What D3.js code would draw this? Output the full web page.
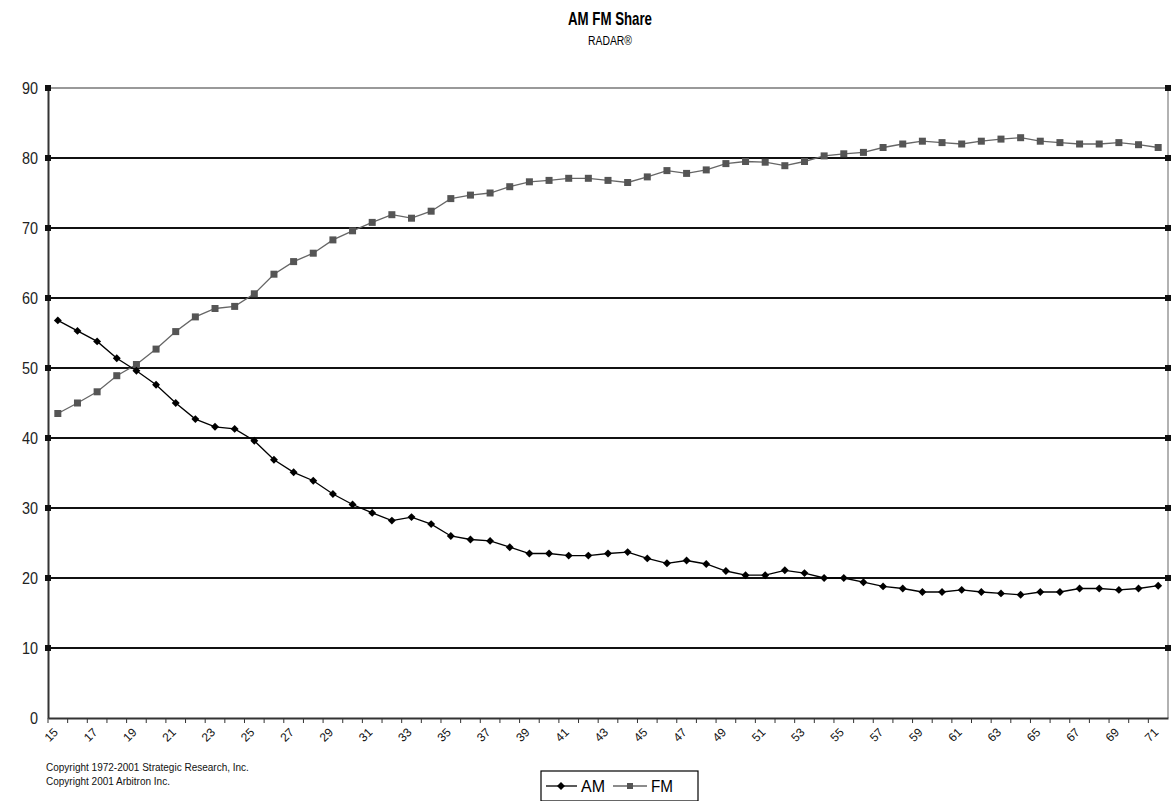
<!DOCTYPE html>
<html>
<head>
<meta charset="utf-8">
<script src="https://cdn.jsdelivr.net/npm/d3@7"></script>
<style>
  body { margin: 0; background: #fff; }
  text { font-family: "Liberation Sans", Arial, sans-serif; }
</style>
</head>
<body>
<script>
// AM FM Share - RADAR report numbers 15..71

var radar = [15,16,17,18,19,20,21,22,23,24,25,26,27,28,29,30,31,32,33,34,35,36,37,38,39,40,
  41,42,43,44,45,46,47,48,49,50,51,52,53,54,55,56,57,58,59,60,61,62,63,64,65,66,67,68,69,70,71];

var amShare = [56.8,55.3,53.8,51.4,49.6,47.6,45.0,42.7,41.6,41.3,39.6,36.9,35.1,33.9,32.0,30.5,
  29.3,28.2,28.7,27.7,26.0,25.5,25.3,24.4,23.5,23.5,23.2,23.2,23.5,23.7,22.8,22.1,22.5,22.0,21.0,
  20.4,20.4,21.1,20.7,20.0,20.0,19.4,18.8,18.5,18.0,18.0,18.3,18.0,17.8,17.6,18.0,18.0,18.5,18.5,
  18.3,18.5,18.9];

var fmShare = [43.5,45.0,46.6,48.9,50.5,52.7,55.2,57.3,58.5,58.8,60.6,63.4,65.2,66.4,68.3,69.6,
  70.8,71.9,71.4,72.4,74.2,74.7,75.0,75.9,76.6,76.8,77.1,77.1,76.8,76.5,77.3,78.2,77.8,78.3,79.2,
  79.5,79.4,78.9,79.5,80.3,80.6,80.8,81.5,82.0,82.4,82.2,82.0,82.4,82.7,82.9,82.4,82.2,82.0,82.0,
  82.2,81.9,81.5];

var yTicks = [0,10,20,30,40,50,60,70,80,90];

var W = 1173, H = 801;
var margin = {top: 88, right: 5, bottom: 83, left: 48};
var width = W - margin.left - margin.right;
var height = H - margin.top - margin.bottom;

var svg = d3.select("body").append("svg")
    .attr("width", W)
    .attr("height", H);

// titles (narrow look via textLength)
svg.append("text")
    .attr("x", 610).attr("y", 25)
    .attr("text-anchor", "middle")
    .attr("textLength", 84)
    .attr("lengthAdjust", "spacingAndGlyphs")
    .style("font-weight", "bold")
    .style("font-size", "19px")
    .text("AM FM Share");

svg.append("text")
    .attr("x", 610).attr("y", 45)
    .attr("text-anchor", "middle")
    .attr("textLength", 44)
    .attr("lengthAdjust", "spacingAndGlyphs")
    .style("font-size", "12px")
    .text("RADAR®");

var g = svg.append("g")
    .attr("transform", "translate(" + margin.left + "," + margin.top + ")");

var xScale = d3.scaleBand().domain(radar).range([0, width]);
var yScale = d3.scaleLinear().domain([0, 90]).range([height, 0]);

// gridlines
g.selectAll(".grid")
    .data(yTicks.filter(function(d) { return d > 0; }))
    .enter().append("line")
    .attr("class", "grid")
    .attr("x1", 0).attr("x2", width)
    .attr("y1", function(d) { return yScale(d); })
    .attr("y2", function(d) { return yScale(d); })
    .attr("stroke", function(d) { return d === 90 ? "#999" : "#111"; })
    .attr("stroke-width", 2);

// right border
g.append("line")
    .attr("x1", width).attr("x2", width)
    .attr("y1", 0).attr("y2", height)
    .attr("stroke", "#999").attr("stroke-width", 1.5);

// y axis
var yAxis = d3.axisLeft(yScale).tickValues(yTicks).tickSize(0).tickPadding(11);
var yg = g.append("g").attr("class", "y axis").call(yAxis);
yg.select(".domain").attr("stroke", "#333").attr("stroke-width", 2);
yg.selectAll("text")
    .style("font-size", "16px")
    .attr("transform", "scale(0.9,1)")
    .attr("fill", "#222");

// square tick markers on both ends of gridlines
[0, width].forEach(function(xp) {
  g.selectAll(null)
      .data(yTicks.filter(function(d) { return d > 0; }))
      .enter().append("rect")
      .attr("x", xp - 3).attr("y", function(d) { return yScale(d) - 3; })
      .attr("width", 6).attr("height", 6)
      .attr("fill", "#111");
});

// x axis
var xAxis = d3.axisBottom(xScale).tickSize(0).tickFormat("");
var xg = g.append("g")
    .attr("class", "x axis")
    .attr("transform", "translate(0," + height + ")")
    .call(xAxis);
xg.select(".domain").attr("stroke", "#333").attr("stroke-width", 2);

// category boundary ticks
xg.selectAll(".btick")
    .data(radar)
    .enter().append("line")
    .attr("class", "btick")
    .attr("x1", function(d) { return xScale(d); })
    .attr("x2", function(d) { return xScale(d); })
    .attr("y1", 0).attr("y2", 5)
    .attr("stroke", "#333").attr("stroke-width", 1);

// rotated labels every other category
xg.selectAll(".xlab")
    .data(radar.filter(function(d, i) { return i % 2 === 0; }))
    .enter().append("text")
    .attr("class", "xlab")
    .attr("transform", function(d) {
      return "translate(" + (xScale(d) + xScale.bandwidth() / 2 + 1) + ",15) rotate(-45)";
    })
    .attr("text-anchor", "end")
    .attr("fill", "#111")
    .style("font-size", "12px")
    .text(function(d) { return d; });

var cx = function(d, i) { return xScale(radar[i]) + xScale.bandwidth() / 2; };

var line = d3.line()
    .x(function(d, i) { return cx(d, i); })
    .y(function(d) { return yScale(d); });

// FM line
g.append("path")
    .datum(fmShare)
    .attr("d", line)
    .attr("fill", "none")
    .attr("stroke", "#666")
    .attr("stroke-width", 1.3);

g.selectAll(".fm")
    .data(fmShare)
    .enter().append("rect")
    .attr("class", "fm")
    .attr("x", function(d, i) { return cx(d, i) - 3.5; })
    .attr("y", function(d) { return yScale(d) - 3.5; })
    .attr("width", 7).attr("height", 7)
    .attr("fill", "#555");

// AM line
g.append("path")
    .datum(amShare)
    .attr("d", line)
    .attr("fill", "none")
    .attr("stroke", "#000")
    .attr("stroke-width", 1.3);

var diamond = d3.symbol().type(d3.symbolDiamond2).size(40);

g.selectAll(".am")
    .data(amShare)
    .enter().append("path")
    .attr("class", "am")
    .attr("d", diamond)
    .attr("transform", function(d, i) {
      return "translate(" + cx(d, i) + "," + yScale(d) + ")";
    })
    .attr("fill", "#000");

// copyright notes
svg.append("text")
    .attr("x", 46).attr("y", 771)
    .style("font-size", "10px")
    .attr("fill", "#111")
    .text("Copyright 1972-2001 Strategic Research, Inc.");
svg.append("text")
    .attr("x", 46).attr("y", 785)
    .style("font-size", "10px")
    .attr("fill", "#111")
    .text("Copyright 2001 Arbitron Inc.");

// legend
var leg = svg.append("g").attr("transform", "translate(541,771)");
leg.append("rect")
    .attr("width", 157).attr("height", 30)
    .attr("fill", "#fff").attr("stroke", "#000").attr("stroke-width", 1.2);

leg.append("line").attr("x1", 5).attr("x2", 36).attr("y1", 15).attr("y2", 15)
    .attr("stroke", "#000").attr("stroke-width", 1.3);
leg.append("path").attr("d", diamond)
    .attr("transform", "translate(20,15)").attr("fill", "#000");
leg.append("text").attr("x", 40).attr("y", 21)
    .attr("textLength", 24).attr("lengthAdjust", "spacingAndGlyphs")
    .style("font-size", "16px")
    .text("AM");

leg.append("line").attr("x1", 72).attr("x2", 106).attr("y1", 15).attr("y2", 15)
    .attr("stroke", "#666").attr("stroke-width", 1.3);
leg.append("rect").attr("x", 86).attr("y", 12).attr("width", 6).attr("height", 6)
    .attr("fill", "#555");
leg.append("text").attr("x", 110).attr("y", 21)
    .attr("textLength", 22).attr("lengthAdjust", "spacingAndGlyphs")
    .style("font-size", "16px")
    .text("FM");
</script>
</body>
</html>
